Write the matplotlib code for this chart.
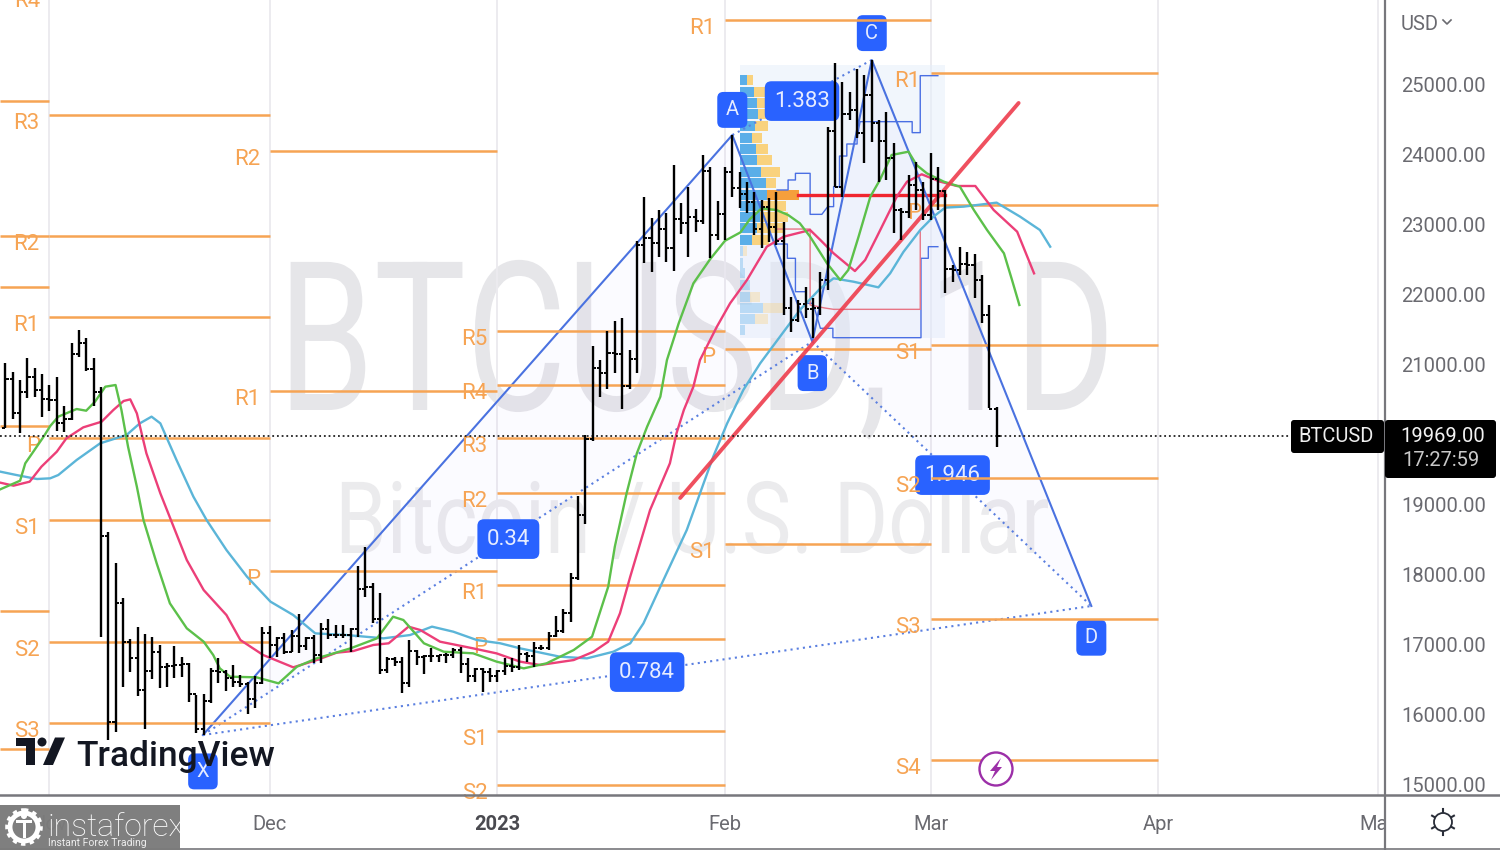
#!/usr/bin/env python3
"""BTCUSD daily chart, TradingView look, with pivots, harmonic pattern and volume profile."""

import matplotlib
matplotlib.use('Agg')
import matplotlib.pyplot as plt
from matplotlib.lines import Line2D
from matplotlib.patches import Circle, FancyBboxPatch, Polygon, Rectangle
from matplotlib.patheffects import AbstractPathEffect
from matplotlib.transforms import Affine2D

# x is days since 1 Nov 2022
first_day = -6
highs = [21014, 20886, 20771, 21086, 20943, 20857, 20700, 20814, 20400, 21300, 21486, 21371, 21086,
         20671, 18600, 18157, 17657, 17071, 17243, 17143, 17100, 16986, 16729, 16971, 16814, 16729,
         16271, 16286, 16657, 16800, 16629, 16700, 16557, 16457, 16543, 17243, 17257, 17100, 17157,
         17200, 17429, 17100, 17129, 17300, 17357, 17271, 17271, 17229, 18114, 18386, 17871, 17729,
         16814, 16814, 16814, 17057, 16914, 16843, 16943, 16843, 16871, 16943, 16957, 16800, 16657,
         16657, 16657, 16629, 16800, 16800, 16986, 16886, 17029, 16986, 17171, 17400, 17500, 18014,
         19114, 19986, 21257, 21057, 21471, 21614, 21657, 21200, 22757, 23386, 23086, 23200, 23157,
         23843, 23300, 23529, 23214, 23986, 23814, 23329, 23814, 24271, 23743, 23600, 23457, 23343,
         23371, 23457, 23029, 21957, 21914, 22100, 21943, 22314, 24386, 25300, 25029, 24886, 25214,
         25129, 25343, 24486, 24600, 24157, 23229, 23700, 23886, 23600, 24014, 23814, 23486, 22414,
         22671, 22600, 22571, 22271, 21843, 20386]
lows = [20086, 20214, 20014, 20514, 20529, 20243, 20329, 20043, 20029, 20200, 21100, 20900, 20400,
        17100, 15629, 15743, 16386, 16600, 16257, 15786, 16500, 16371, 16386, 16514, 16529, 16171,
        15729, 15700, 16157, 16443, 16329, 16386, 16386, 16000, 16086, 16429, 16800, 16814, 16857,
        16886, 16871, 16914, 16729, 16729, 17071, 17086, 17086, 16886, 17100, 17671, 17300, 16571,
        16586, 16686, 16300, 16386, 16700, 16571, 16743, 16743, 16729, 16800, 16586, 16457, 16457,
        16314, 16457, 16457, 16557, 16600, 16629, 16743, 16671, 16914, 16914, 17100, 17157, 17314,
        17914, 18714, 19900, 20529, 20643, 20871, 20357, 20643, 20871, 22443, 22314, 22529, 22457,
        22329, 22857, 22529, 22886, 23000, 22514, 22771, 22771, 23386, 23229, 23157, 22843, 22657,
        22743, 22700, 21700, 21457, 21600, 21657, 21371, 21700, 22057, 23529, 23386, 24486, 24229,
        23871, 24171, 23600, 23629, 22871, 22771, 23086, 23200, 23057, 23057, 23200, 22014, 22171,
        22271, 22271, 21943, 21586, 20371, 19814]
opens = [20090, 20780, 20295, 20600, 20820, 20630, 20500, 20485, 20160, 20210, 21150, 21300, 20930,
         20600, 18540, 15880, 17590, 17030, 16800, 16350, 16620, 16880, 16670, 16690, 16700, 16710,
         16290, 15790, 16190, 16610, 16600, 16520, 16460, 16430, 16210, 16440, 17160, 16980, 17090,
         16890, 17110, 16970, 17090, 16840, 17220, 17130, 17130, 17130, 17210, 17780, 17810, 17360,
         16630, 16780, 16740, 16440, 16900, 16820, 16830, 16830, 16840, 16840, 16920, 16710, 16550,
         16640, 16600, 16540, 16620, 16680, 16670, 16860, 16830, 16950, 16950, 17120, 17180, 17440,
         17940, 18840, 19930, 20950, 20870, 21160, 21150, 20680, 21070, 22700, 22800, 22730, 22930,
         22660, 23070, 23010, 23100, 23040, 23760, 22840, 23140, 23740, 23520, 23430, 23320, 22930,
         23250, 22960, 22760, 21800, 21630, 21860, 21780, 21800, 22200, 24330, 23530, 24570, 24630,
         24300, 24840, 24450, 24190, 23940, 23200, 23170, 23560, 23490, 23130, 23650, 23470, 22360,
         22350, 22430, 22410, 22200, 21700, 20360]
closes = [20780, 20295, 20600, 20820, 20630, 20500, 20485, 20160, 20210, 21150, 21300, 20930, 20600,
          18540, 15880, 17590, 17030, 16800, 16350, 16620, 16880, 16670, 16690, 16700, 16710, 16290,
          15790, 16190, 16610, 16600, 16520, 16460, 16430, 16210, 16440, 17160, 16980, 17090, 16890,
          17110, 16970, 17090, 16840, 17220, 17130, 17130, 17130, 17210, 17780, 17810, 17360, 16630,
          16780, 16740, 16440, 16900, 16820, 16830, 16830, 16840, 16840, 16920, 16710, 16550, 16640,
          16600, 16540, 16620, 16680, 16670, 16860, 16830, 16950, 16950, 17120, 17180, 17440, 17940,
          18840, 19930, 20950, 20870, 21160, 21150, 20680, 21070, 22700, 22800, 22730, 22930, 22660,
          23070, 23010, 23100, 23040, 23760, 22840, 23140, 23740, 23520, 23430, 23320, 22930, 23250,
          22960, 22760, 21800, 21630, 21860, 21780, 21800, 22200, 24330, 23530, 24570, 24630, 24300,
          24840, 24450, 24190, 23940, 23200, 23170, 23560, 23490, 23130, 23650, 23470, 22360, 22350,
          22430, 22410, 22200, 21700, 20360, 19969]
bar_days = [first_day + i for i in range(len(closes))]

# moving averages
green_days = [-6.7, -4.0, -3.3, -2.2, -0.8, 0.1, 1.2, 3.7, 5.0, 6.2, 7.6, 9.0, 9.8, 10.7, 11.9, 12.8, 14.6,
              16.4, 18.7, 21.0, 22.3, 23.2, 24.6, 28.2, 31.2, 33.7, 36.4, 41.0, 44.6, 46.8, 48.2, 51.0,
              53.7, 57.7, 60.9, 64.6, 67.7, 71.4, 73.9, 76.1, 77.0, 78.6, 80.0, 81.4, 83.2, 84.1, 85.7,
              87.7, 90.0, 92.0, 94.1, 95.4, 97.0, 99.0, 100.6, 102.2, 103.6, 105.9, 107.7, 108.8, 110.2,
              111.8, 113.1, 114.7, 117.0, 118.1, 119.5, 121.8, 124.0, 125.9, 127.7, 130.0, 131.1, 132.1]
green_vals = [19210, 19333, 19581, 19748, 19962, 20114, 20248, 20357, 20333, 20462, 20676, 20700, 20343,
              19819, 19248, 18771, 18152, 17581, 17224, 17033, 16843, 16652, 16533, 16524, 16438, 16676,
              16795, 16938, 17081, 17390, 17343, 17010, 16890, 16867, 16748, 16652, 16724, 16914, 17105,
              17819, 18390, 19152, 19724, 20105, 20533, 21057, 21581, 22152, 22500, 22760, 22880, 23070,
              23224, 23200, 23129, 23010, 22819, 22438, 22200, 22343, 22819, 23390, 23629, 23986, 24033,
              23843, 23724, 23605, 23533, 23200, 22914, 22581, 22200, 21843]
pink_days = [-6.7, -4.9, -2.7, -1.1, 1.0, 2.3, 4.6, 7.1, 8.7, 10.1, 11.0, 11.9, 13.2, 15.1, 16.9, 18.7, 21.0,
             24.1, 26.0, 29.1, 33.2, 36.4, 39.1, 41.4, 44.1, 46.2, 48.9, 50.5, 53.2, 57.7, 60.9, 64.1,
             66.8, 71.4, 74.1, 76.1, 77.7, 79.1, 81.8, 84.5, 85.4, 86.4, 87.7, 88.6, 90.9, 92.7, 95.0,
             97.7, 100.0, 103.6, 105.0, 106.8, 109.7, 111.1, 112.7, 115.4, 116.8, 118.8, 121.3, 123.6,
             126.1, 128.6, 131.8, 134.1]
pink_vals = [19305, 19262, 19319, 19533, 19748, 19938, 20095, 20176, 20343, 20472, 20495, 20295, 19724,
             19152, 18676, 18200, 17771, 17414, 17057, 16843, 16667, 16771, 16876, 16900, 16986, 17010,
             17248, 17200, 17033, 16938, 16866, 16748, 16700, 16771, 16890, 17033, 17438, 17962, 18914,
             19581, 20010, 20343, 20676, 21057, 21533, 21867, 22200, 22676, 22819, 22914, 22771, 22581,
             22328, 22486, 22819, 23390, 23605, 23710, 23605, 23543, 23543, 23200, 22890, 22295]
blue_days = [-6.7, -4.5, -1.7, 0.1, 1.2, 3.7, 6.9, 10.5, 12.3, 13.9, 15.1, 17.3, 19.6, 21.4, 24.1, 26.9, 30.1,
             33.2, 36.2, 40.5, 45.5, 49.1, 52.1, 55.0, 58.2, 61.4, 64.1, 69.5, 73.2, 76.8, 79.1, 80.9,
             83.2, 86.8, 88.6, 90.4, 92.3, 94.5, 96.8, 100.0, 102.2, 105.0, 106.8, 109.5, 112.9, 114.5,
             116.3, 118.6, 120.4, 122.0, 124.5, 129.0, 132.2, 134.9, 136.3]
blue_vals = [19462, 19414, 19357, 19367, 19414, 19629, 19867, 19986, 20152, 20248, 20152, 19629, 19105,
             18771, 18343, 17962, 17605, 17414, 17152, 17128, 17081, 17128, 17248, 17176, 17057, 17010,
             16938, 16819, 16795, 16890, 17010, 17295, 17819, 18629, 19152, 19676, 20152, 20629, 21010,
             21462, 21771, 22081, 22224, 22176, 22095, 22295, 22600, 22914, 23105, 23234, 23248, 23305,
             23105, 22914, 22676]

# monthly pivots: names, prices, column start and end
oct_prices = [24757, 22829, 22100, 20114, 17471, 15500]
nov_names = ['R3', 'R2', 'R1', 'P', 'S1', 'S2', 'S3']
nov_prices = [24557, 22829, 21671, 19943, 18771, 17029, 15871]
dec_names = ['R2', 'R1', 'P']
dec_prices = [24043, 20614, 18043]
jan_names = ['R5', 'R4', 'R3', 'R2', 'R1', 'P', 'S1', 'S2']
jan_prices = [21471, 20700, 19943, 19157, 17843, 17071, 15757, 14986]
feb_names = ['R1', 'P', 'S1']
feb_prices = [25914, 21214, 18429]
mar_names = ['R1', 'P', 'S1', 'S2', 'S3', 'S4']
mar_prices = [25157, 23271, 21271, 19371, 17357, 15343]

# XABCD pattern points
pattern_days = [20.9, 93, 103.9, 112, 141.9]
pattern_vals = [15700, 24271, 21320, 25343, 17543]

# volume profile rows
vp_prices = [25057, 24890, 24733, 24571, 24400, 24233, 24071, 23914, 23748, 23581, 23414, 23262,
             23105, 22938, 22771, 22619, 22448, 22295, 22129, 21962, 21805, 21638, 21486]
vp_up = [7, 14, 17, 18, 15, 12, 16, 17, 21, 26, 27, 23, 20, 17, 12, 3, 3, 5, 10, 10, 23, 15, 5]
vp_down = [6, 12, 11, 11, 13, 10, 12, 15, 19, 10, 32, 23, 28, 27, 17, 4, 0, 0, 0, 10, 20, 13, 0]

# value area step lines of the profile
vah_days = [99.1, 100.6, 100.6, 101.6, 101.6, 103.6, 103.6, 105.2, 106, 106.8, 106.8, 107.6, 107.6, 108.6,
            108.6, 110, 110, 110.4, 117.5, 117.5, 118.6, 118.6, 121]
vah_vals = [23486, 23486, 23629, 23629, 23724, 23724, 23138, 23138, 23248, 23248, 23533, 23533, 23971,
            23971, 24143, 24143, 24224, 24462, 24462, 24305, 24305, 25119, 25119]
val_days = [99.1, 100.5, 100.5, 101.6, 101.6, 103, 103, 104, 105, 106.7, 106.7, 118.7, 118.7, 119.7, 119.7, 121]
val_vals = [22714, 22714, 22510, 22510, 22033, 22033, 21867, 21867, 21510, 21510, 21376, 21376, 22510,
            22510, 22676, 22676]
poc_days = [99.1, 103.6, 103.6, 105.6, 106.8, 118.6, 118.6]
poc_vals = [22928, 22928, 21843, 21800, 21781, 21781, 22900]

price_ticks = [15000, 16000, 17000, 18000, 19000, 20000, 21000, 22000, 23000, 24000, 25000]
grid_prices = price_ticks + [26000]
month_days = [0, 30, 61, 92, 120, 151, 181]
month_labels = ['Nov', 'Dec', '2023', 'Feb', 'Mar', 'Apr', 'May']
last_price = 19969

BOX_BLUE = '#2962ff'
PIVOT = '#f6a454'
GREY_TEXT = '#6a6a70'


class SqueezeX(AbstractPathEffect):
    """Narrow a text horizontally, the reference watermark is a squeezed screenshot."""

    def __init__(self, x0, sx):
        super().__init__()
        self.x0 = x0
        self.sx = sx

    def draw_path(self, renderer, gc, tpath, affine, rgbFace=None):
        squeeze = Affine2D().translate(-self.x0, 0).scale(self.sx, 1).translate(self.x0, 0)
        renderer.draw_path(gc, tpath, affine + squeeze, rgbFace)


plt.rcParams['font.family'] = ['Roboto', 'DejaVu Sans']

W, H = 1500, 850
fig = plt.figure(figsize=(15, 8.5), dpi=100, facecolor='white')
px = Affine2D().scale(1, -1).translate(0, H)  # screen pixels for the chrome around the chart

ax = fig.add_axes([0, 55 / H, 1385 / W, 795 / H])
ax.set_xlim(-6.74, 181.9)
ax.set_ylim(14843, 26200)
for s in ax.spines.values():
    s.set_visible(False)
ax.yaxis.set_visible(False)
ax.set_axisbelow(True)
ax.set_yticks(grid_prices)
ax.set_xticks(month_days)
ax.set_xticklabels(month_labels, fontsize=14.5, color=GREY_TEXT)
ax.get_xticklabels()[2].set_fontweight('bold')
ax.get_xticklabels()[2].set_color('#4a4a50')
ax.tick_params(axis='x', length=0, pad=14.5)
ax.grid(True, color='#ecebef', linewidth=1.4)

# watermark
ax.text(280 / W, 1 - 410 / H, 'BTCUSD, 1D', transform=fig.transFigure, fontsize=150, color='#e6e6e9', ha='left',
        va='baseline', zorder=0.2, path_effects=[SqueezeX(272, 0.74)])
ax.text(335 / W, 1 - 553 / H, 'Bitcoin / U.S. Dollar', transform=fig.transFigure, fontsize=72, color='#ebebed',
        ha='left', va='baseline', zorder=0.2, path_effects=[SqueezeX(335, 0.83)])

# volume profile
ax.add_patch(Rectangle((94.07, 21371), 27.93, 3900, facecolor='#e6f0fb', alpha=0.55, edgecolor='none', zorder=0.6))
vp_start = 94.07
for i, (p, up, down) in enumerate(zip(vp_prices, vp_up, vp_down)):
    a = 1 if i < 15 else 0.35
    up_w, down_w = up / 7.34, down / 7.34
    ax.barh(p, up_w, left=vp_start, height=143, color='#5aaee8', alpha=a, zorder=1)
    ax.barh(p, down_w, left=vp_start + up_w, height=143, alpha=a, zorder=1,
            color='#f59f3c' if i == 10 else '#f9d27e')
ax.plot(vah_days, vah_vals, color='#4a6fe3', lw=1.0, zorder=2)
ax.plot(val_days, val_vals, color='#4a6fe3', lw=1.0, zorder=2)
ax.plot(poc_days, poc_vals, color='#e77585', lw=1.0, zorder=2)
ax.plot([vp_start + 58 / 7.34, 122], [23414, 23414], color='#f0262f', lw=2.4, zorder=3.5)

# pattern fill and lines
ax.fill(pattern_days[:3], pattern_vals[:3], color='#7a5cff', alpha=0.025, zorder=0.7, lw=0)
ax.fill(pattern_days[2:], pattern_vals[2:], color='#7a5cff', alpha=0.025, zorder=0.7, lw=0)
ax.plot(pattern_days, pattern_vals, color='#4a72e0', lw=1.5, zorder=5)
for a_i, b_i in [(0, 2), (1, 3), (2, 4), (0, 4)]:
    ax.plot([pattern_days[a_i], pattern_days[b_i]], [pattern_vals[a_i], pattern_vals[b_i]], color='#5a7fe0',
            lw=1.5, ls=(0, (1, 2)), zorder=5)

box_style = dict(boxstyle='round,pad=0.42,rounding_size=0.3', fc=BOX_BLUE, ec='none')
point_labels = ['X', 'A', 'B', 'C', 'D']
point_x = [20.9, 93, 103.9, 112, 141.9]
point_y = [15180, 24630, 20870, 25727, 17090]
for name, x, y in zip(point_labels, point_x, point_y):
    ax.text(x, y, name, color='#e6ecff', fontsize=14.5, ha='center', va='center', bbox=box_style, zorder=5.5)
ratio_labels = ['1.383', '0.34', '0.784', '1.946']
ratio_x = [102.5, 62.5, 81.4, 123]
ratio_y = [24756, 18499, 16599, 19413]
for name, x, y in zip(ratio_labels, ratio_x, ratio_y):
    ax.text(x, y, name, color='#e6ecff', fontsize=16, ha='center', va='center', bbox=box_style, zorder=5.5)

# pivots
ax.hlines(oct_prices, -6.74, 0, color=PIVOT, lw=1.8, zorder=6)
columns = [(0, 30, nov_names, nov_prices), (30, 61, dec_names, dec_prices), (61, 92, jan_names, jan_prices),
           (92, 120, feb_names, feb_prices), (120, 151, mar_names, mar_prices)]
for start, end, names, prices in columns:
    ax.hlines(prices, start, end, color=PIVOT, lw=1.8, zorder=6)
    for n, p in zip(names, prices):
        ax.annotate(n, (start, p), xytext=(-7, -6), textcoords='offset points', color=PIVOT, fontsize=16,
                    ha='right', va='center', zorder=6, annotation_clip=False)
ax.annotate('R4', (0, 26200), xytext=(-7, -1), textcoords='offset points', color=PIVOT, fontsize=16,
            ha='right', va='center', zorder=6)

# moving averages and trend line
ax.plot(blue_days, blue_vals, color='#5bb5d8', lw=1.7, zorder=7)
ax.plot(pink_days, pink_vals, color='#ec3f78', lw=1.7, zorder=7)
ax.plot(green_days, green_vals, color='#5cc04a', lw=1.7, zorder=7)
ax.plot([85.9, 132], [19086, 24729], color='#ee3d4d', lw=2.8, alpha=0.9, zorder=7.5, solid_capstyle='round')

# last price line
ax.plot([-6.74, (1290 - 49.5) / 7.34], [last_price, last_price], color='#222222', lw=1.3, ls=(0, (1, 1.6)), zorder=7.5)

# OHLC bars
ax.vlines(bar_days, lows, highs, color='black', lw=1.7, zorder=8)
ax.hlines(opens, [d - 0.42 for d in bar_days], bar_days, color='black', lw=1.4, zorder=8)
ax.hlines(closes, bar_days, [d + 0.42 for d in bar_days], color='black', lw=1.4, zorder=8)

# price scale on the right, covers the tail of the May label
ax_r = fig.add_axes([1385 / W, 55 / H, 115 / W, 795 / H], facecolor='white', zorder=3)
ax_r.set_ylim(ax.get_ylim())
ax_r.set_xticks([])
for s in ax_r.spines.values():
    s.set_visible(False)
ax_r.set_yticks(price_ticks)
ax_r.set_yticklabels([f'{v:.2f}' for v in price_ticks], fontsize=14.5, color=GREY_TEXT, ha='left')
ax_r.tick_params(axis='y', length=0, pad=-11.5)
ax_c = fig.add_axes([1385 / W, 0, 115 / W, 55 / H], facecolor='white', zorder=3)
ax_c.axis('off')
ax_c.add_patch(Rectangle((0, 0), 1, 1, transform=ax_c.transAxes, color='white'))


def add(artist):
    artist.set_zorder(10)
    fig.add_artist(artist)


def label(x, y, s, **kw):
    fig.text(x, y, s, transform=px, zorder=11, **kw)


add(Line2D([1385, 1385], [0, H], transform=px, color='#77777c', lw=1.6))
add(Line2D([0, W], [795, 795], transform=px, color='#77777c', lw=1.8))
add(Line2D([0, W], [849, 849], transform=px, color='#77777c', lw=1.2))

label(1401, 25, 'USD', fontsize=14.5, color=GREY_TEXT, ha='left', va='center')
add(Line2D([1443, 1447, 1451], [20, 24, 20], transform=px, color=GREY_TEXT, lw=1.2))

# last price tags
add(FancyBboxPatch((1293, 422), 89, 29, boxstyle='round,pad=2,rounding_size=3', transform=px, fc='black', ec='none'))
add(FancyBboxPatch((1387, 422), 107, 54, boxstyle='round,pad=2,rounding_size=3', transform=px, fc='black', ec='none'))
label(1336, 436, 'BTCUSD', fontsize=14.5, color='#eeeeee', ha='center', va='center')
label(1443, 436, f'{last_price:.2f}', fontsize=14.5, color='#f2f2f2', ha='center', va='center')
label(1441, 461, '17:27:59', fontsize=14.5, color='#c9c9c9', ha='center', va='center')

# TradingView logo
logo = '#131722'
add(Polygon([(16, 737.5), (35, 737.5), (35, 765), (26, 765), (26, 746), (16, 746)], transform=px, fc=logo, ec='none'))
add(Circle((42, 742), 4.5, transform=px, fc=logo, ec='none'))
add(Polygon([(55, 737.5), (65, 737.5), (53, 765), (43, 765)], transform=px, fc=logo, ec='none'))
label(76, 766, 'TradingView', fontsize=25.5, color=logo, ha='left', va='baseline', fontweight='medium')

# bolt alert icon
add(Circle((996, 769), 16.5, transform=px, fc='white', ec='#9c2fa8', lw=1.7))
add(Polygon([(1001, 758), (990, 771), (995, 771), (991, 780), (1002, 767), (997, 767)], transform=px, fc='#9c2fa8', ec='none'))

# settings icon
add(Circle((1443, 822), 9, transform=px, fc='none', ec='#2a2e39', lw=1.3))
for dx, dy in [(0, -12), (0, 12), (10.4, -6), (10.4, 6), (-10.4, -6), (-10.4, 6)]:
    add(Line2D([1443 + dx * 0.8, 1443 + dx * 1.05], [822 + dy * 0.8, 822 + dy * 1.05], transform=px, color='#2a2e39', lw=1.5))

# instaforex badge
add(Rectangle((0, 805), 180, 45, transform=px, fc='#7b7b7b', ec='none', alpha=0.97))
add(Circle((24, 827), 14, transform=px, fc='none', ec='white', lw=3.5))
add(Circle((24, 827), 17, transform=px, fc='none', ec='white', lw=2.6, ls=(0, (1.2, 1.2))))
add(Rectangle((16, 820), 16, 3, transform=px, fc='white', ec='none'))
add(Rectangle((22.5, 820), 3, 18, transform=px, fc='white', ec='none'))
add(Circle((24, 816), 3, transform=px, fc='white', ec='none'))
label(47, 836, 'instaforex', fontsize=23, color='white', ha='left', va='baseline', fontweight='light')
label(48, 846, 'Instant Forex Trading', fontsize=7.5, color='#eeeeee', ha='left', va='baseline')

fig.savefig('out.png', dpi=100)
